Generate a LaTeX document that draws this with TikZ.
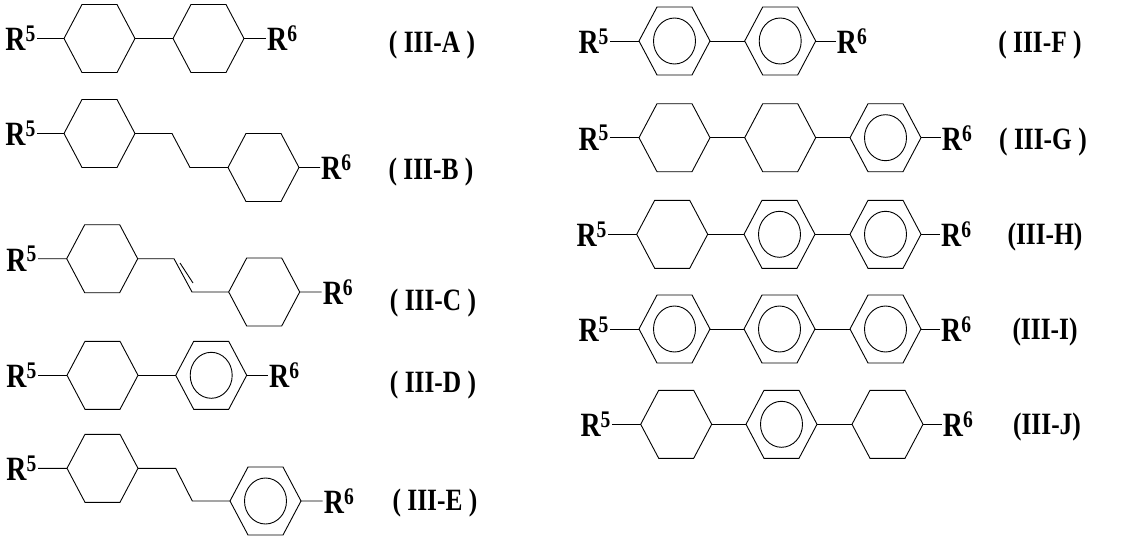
\documentclass[tikz,border=0pt]{standalone}
\usepackage{fontspec}
\setmainfont{Liberation Serif}
\usetikzlibrary{calc}
\tikzset{bond/.style={line width=0.9pt},
  sub/.style={font=\fontsize{34}{35}\selectfont\bfseries,inner sep=1pt},
  lbl/.style={font=\fontsize{31}{32}\selectfont\bfseries,inner sep=0pt}}
% narrow text
\newcommand\nrw[1]{\scalebox{0.82}[1]{#1}}
\newcommand\Rf{\nrw{R\textsuperscript{5}}}
\newcommand\Rs{\nrw{R\textsuperscript{6}}}
% cyclohexane ring, left vertex at (#2,#3)
\newcommand\cyc[3]{%
  \draw[bond] (#2,#3) coordinate (#1-l) -- ++(18,-34) -- ++(35,0) -- ++(18,34) coordinate (#1-r)
    -- ++(-18,34) -- ++(-35,0) -- cycle;}
% benzene ring, left vertex at (#2,#3)
\newcommand\benz[3]{%
  \cyc{#1}{#2}{#3}
  \draw[bond] (#2+35.5,#3) ellipse[x radius=21,y radius=23];}
\begin{document}
\begin{tikzpicture}[x=1pt,y=-1pt]
\useasboundingbox (0,0) rectangle (1143,541);
% III-A
\cyc{a1}{64}{38.5} \cyc{a2}{173}{38.5}
\node[sub,anchor=east] (a5) at (37,38.5) {\Rf};
\node[sub,anchor=west] (a6) at (266,38.5) {\Rs};
\draw[bond] (a5) -- (a1-l) (a1-r) -- (a2-l) (a2-r) -- (a6);
\node[lbl] (la) at (432,45) {\nrw{( III-A )}};
% III-B
\cyc{b1}{64}{133.5} \cyc{b2}{228}{167.5}
\node[sub,anchor=east] (b5) at (37,133.5) {\Rf};
\node[sub,anchor=west] (b6) at (320,167.5) {\Rs};
\draw[bond] (b5) -- (b1-l) (b1-r) -- ++(37,0) coordinate (b-m1) -- (190,167.5) coordinate (b-m2) -- (b2-l) (b2-r) -- (b6);
\node[lbl] (lb) at (431,172) {\nrw{( III-B )}};
% III-C
\cyc{c1}{66.7}{258.7} \cyc{c2}{228.7}{292}
\node[sub,anchor=east] (c5) at (38,258.7) {\Rf};
\node[sub,anchor=west] (c6) at (321.6,292) {\Rs};
\draw[bond] (c5) -- (c1-l) (c1-r) -- (174,258.7) coordinate (c-m1) -- (192,292) coordinate (c-m2) -- (c2-l) (c2-r) -- (c6);
\draw[bond] (180,263) -- (193,283);
\node[lbl] (lc) at (433,303) {\nrw{( III-C )}};
% III-D
\cyc{d1}{67}{375.3} \benz{d2}{175.7}{375.3}
\node[sub,anchor=east] (d5) at (38,375.3) {\Rf};
\node[sub,anchor=west] (d6) at (268,375.3) {\Rs};
\draw[bond] (d5) -- (d1-l) (d1-r) -- (d2-l) (d2-r) -- (d6);
\node[lbl] (ld) at (433,385) {\nrw{( III-D )}};
% III-E
\cyc{e1}{67}{468.3} \benz{e2}{230}{501}
\node[sub,anchor=east] (e5) at (38,468.3) {\Rf};
\node[sub,anchor=west] (e6) at (322.7,501) {\Rs};
\draw[bond] (e5) -- (e1-l) (e1-r) -- (175.7,468.3) coordinate (e-m1) -- (192.3,501) coordinate (e-m2) -- (e2-l) (e2-r) -- (e6);
\node[lbl] (le) at (435,503) {\nrw{( III-E )}};
% III-F
\benz{f1}{639}{41} \benz{f2}{744.7}{41}
\node[sub,anchor=east] (f5) at (610,41) {\Rf};
\node[sub,anchor=west] (f6) at (835.7,41) {\Rs};
\draw[bond] (f5) -- (f1-l) (f1-r) -- (f2-l) (f2-r) -- (f6);
\node[lbl] (lf) at (1040,45) {\nrw{( III-F )}};
% III-G
\cyc{g1}{639}{137.7} \cyc{g2}{744.7}{137.7} \benz{g3}{850}{137.7}
\node[sub,anchor=east] (g5) at (610,137.7) {\Rf};
\node[sub,anchor=west] (g6) at (940.7,137.7) {\Rs};
\draw[bond] (g5) -- (g1-l) (g1-r) -- (g2-l) (g2-r) -- (g3-l) (g3-r) -- (g6);
\node[lbl] (lg) at (1043,142) {\nrw{( III-G )}};
% III-H
\cyc{h1}{636.7}{234.3} \benz{h2}{744}{234.3} \benz{h3}{850}{234.3}
\node[sub,anchor=east] (h5) at (608,234.3) {\Rf};
\node[sub,anchor=west] (h6) at (940,234.3) {\Rs};
\draw[bond] (h5) -- (h1-l) (h1-r) -- (h2-l) (h2-r) -- (h3-l) (h3-r) -- (h6);
\node[lbl] (lh) at (1045,237) {\nrw{(III-H)}};
% III-I
\benz{i1}{639}{329} \benz{i2}{744}{329} \benz{i3}{850}{329}
\node[sub,anchor=east] (i5) at (610,329) {\Rf};
\node[sub,anchor=west] (i6) at (940,329) {\Rs};
\draw[bond] (i5) -- (i1-l) (i1-r) -- (i2-l) (i2-r) -- (i3-l) (i3-r) -- (i6);
\node[lbl] (li) at (1045,332) {\nrw{(III-I)}};
% III-J
\cyc{j1}{640.7}{424.3} \benz{j2}{746}{424.3} \cyc{j3}{852}{424.3}
\node[sub,anchor=east] (j5) at (612,424.3) {\Rf};
\node[sub,anchor=west] (j6) at (941.7,424.3) {\Rs};
\draw[bond] (j5) -- (j1-l) (j1-r) -- (j2-l) (j2-r) -- (j3-l) (j3-r) -- (j6);
\node[lbl] (lj) at (1047,427) {\nrw{(III-J)}};
\end{tikzpicture}
\end{document}
